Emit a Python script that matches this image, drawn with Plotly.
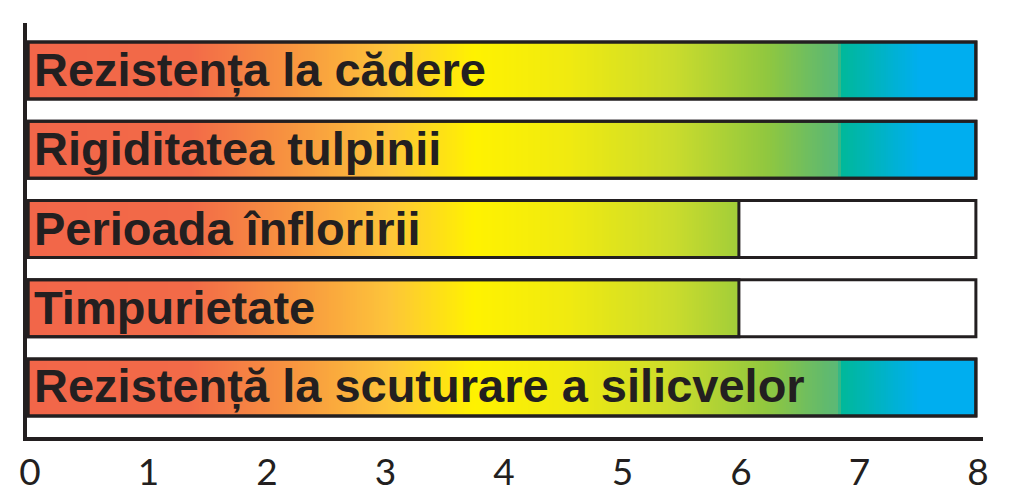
import plotly.graph_objects as go

# criterii si note (0-8)
criterii = ['Rezistența la cădere', 'Rigiditatea tulpinii', 'Perioada înfloririi',
            'Timpurietate', 'Rezistență la scuturare a silicvelor']
note = [8, 8, 6, 6, 8]
nota_max = 8
ticks = [0, 1, 2, 3, 4, 5, 6, 7, 8]

# gradient rosu -> galben -> verde -> albastru
gradient = [
    [0.0, '#f26649'], [0.17, '#f26a48'], [0.27, '#f79140'], [0.38, '#fdc43a'],
    [0.47, '#fff200'], [0.57, '#f0ea10'], [0.68, '#cbdc2c'], [0.78, '#90c73f'],
    [0.84, '#62ba6c'], [0.855, '#5bb877'], [0.858, '#00b89a'], [0.94, '#00aeef'],
    [1.0, '#00aeef'],
]

pas = 0.02
n = int(nota_max / pas)
x_edges = [i * pas for i in range(n + 1)]
centre = [(i + 0.5) * pas for i in range(n)]
latime = 0.72
pozitii = list(range(len(criterii)))

y_edges = []
z = []
for i, v in zip(pozitii, note):
    y_edges += [i - latime / 2, i + latime / 2]
    z.append([c if c <= v else None for c in centre])
    if i < len(pozitii) - 1:
        z.append([None] * n)

fig = go.Figure()
fig.add_trace(go.Heatmap(x=x_edges, y=y_edges, z=z, colorscale=gradient,
                         zmin=0, zmax=nota_max, showscale=False, hoverinfo='skip'))
# contur complet pana la 8
fig.add_trace(go.Bar(x=[nota_max] * len(note), y=pozitii, orientation='h', width=latime,
                     marker=dict(color='rgba(0,0,0,0)', line=dict(color='#231f20', width=3)),
                     hoverinfo='skip'))
# contur pana la nota
fig.add_trace(go.Bar(x=note, y=pozitii, orientation='h', width=latime,
                     marker=dict(color='rgba(0,0,0,0)', line=dict(color='#231f20', width=3)),
                     hovertext=criterii))

for i, t in zip(pozitii, criterii):
    fig.add_annotation(x=0, y=i, text='<b>' + t + '</b>', showarrow=False,
                       xanchor='left', xshift=4, yshift=1,
                       font=dict(family='Liberation Sans, Arial, sans-serif', size=47,
                                 color='#231f20'))

# pagina are 8px margine implicita in browser
fig.update_layout(
    width=994, height=484, barmode='overlay', showlegend=False,
    plot_bgcolor='white', paper_bgcolor='white',
    margin=dict(l=19, r=19, t=15, b=55),
    xaxis=dict(range=[-0.008, 8.06], tickvals=ticks, showgrid=False, zeroline=False,
               showline=True, linewidth=4, linecolor='#231f20', ticks='',
               automargin=False, ticklabelstandoff=0, ticklabelshift=2,
               tickfont=dict(family='Lato', size=37, color='#231f20')),
    yaxis=dict(range=[4.625, -0.6], showgrid=False, zeroline=False, showticklabels=False,
               showline=True, linewidth=4, linecolor='#231f20', ticks='',
               automargin=False),
)
fig.write_html('out.html')
